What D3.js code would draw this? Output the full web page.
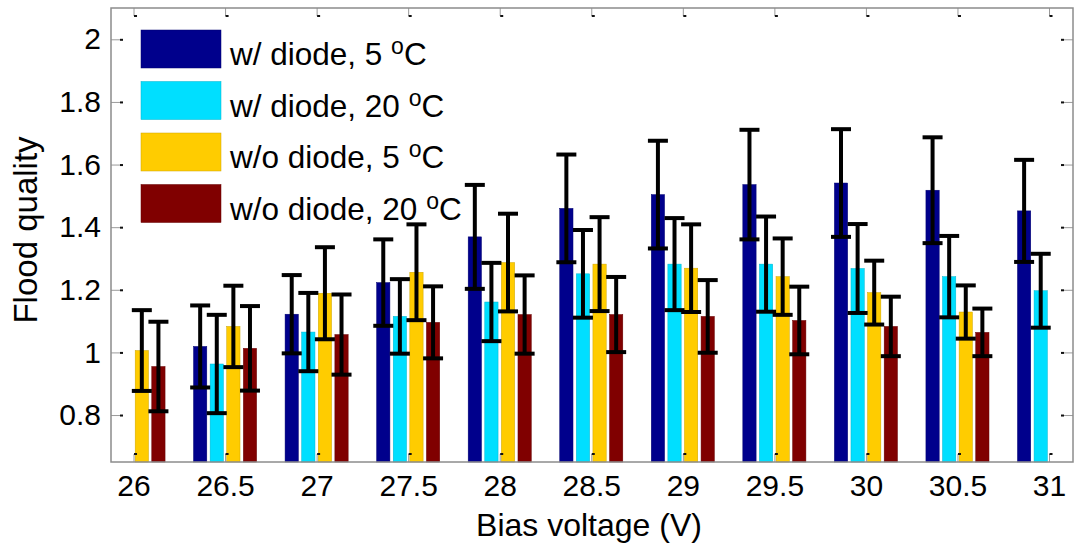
<!DOCTYPE html>
<html>
<head>
<meta charset="utf-8">
<script src="https://cdn.jsdelivr.net/npm/d3@7"></script>
<style>
  html, body { margin: 0; padding: 0; background: #fff; }
  svg { display: block; font-family: "Liberation Sans", Arial, Helvetica, sans-serif; }
</style>
</head>
<body>
<svg id="chart" width="1076" height="546"></svg>
<script>
// ---- data ----
const voltages = [26, 26.5, 27, 27.5, 28, 28.5, 29, 29.5, 30, 30.5, 31];
const tickLabels = ["26", "26.5", "27", "27.5", "28", "28.5", "29", "29.5", "30", "30.5", "31"];
const seriesNames = ["w/ diode, 5 ", "w/ diode, 20 ", "w/o diode, 5 ", "w/o diode, 20 "];
const seriesColors = ["#00008c", "#00dfff", "#ffcc00", "#800000"];

const withDiode5 =   [null, 1.019, 1.122, 1.223, 1.369, 1.460, 1.504, 1.536, 1.541, 1.518, 1.452];
const withDiode20 =  [null, 0.963, 1.065, 1.115, 1.161, 1.251, 1.282, 1.282, 1.268, 1.242, 1.197];
const withoutDiode5 =  [1.006, 1.083, 1.189, 1.256, 1.287, 1.282, 1.269, 1.242, 1.191, 1.129, null];
const withoutDiode20 = [0.955, 1.013, 1.057, 1.096, 1.121, 1.121, 1.115, 1.102, 1.083, 1.064, null];

const errDiode5 =    [null, 0.131, 0.125, 0.138, 0.166, 0.172, 0.172, 0.175, 0.172, 0.169, 0.163];
const errDiode20 =   [null, 0.157, 0.125, 0.119, 0.125, 0.140, 0.147, 0.152, 0.142, 0.130, 0.118];
const errNoDiode5 =  [0.129, 0.130, 0.147, 0.153, 0.156, 0.150, 0.140, 0.122, 0.102, 0.085, null];
const errNoDiode20 = [0.143, 0.135, 0.128, 0.115, 0.125, 0.120, 0.116, 0.108, 0.095, 0.076, null];

const yTicks = [0.8, 1, 1.2, 1.4, 1.6, 1.8, 2];
const xLimits = [25.877, 31.131];
const yLimits = [0.65, 2.1];

const seriesValues = [withDiode5, withDiode20, withoutDiode5, withoutDiode20];
const seriesErrors = [errDiode5, errDiode20, errNoDiode5, errNoDiode20];

// ---- layout ----
const svg = d3.select("#chart");
const pLeft = 111, pRight = 1073, pTop = 8, pBottom = 462;
const x = d3.scaleLinear().domain(xLimits).range([pLeft, pRight]);
const y = d3.scaleLinear().domain(yLimits).range([pBottom, pTop]);
const inner = d3.scaleBand().domain(d3.range(4)).range([-33.2, 33.2]).paddingInner(0.2).paddingOuter(0.1);

const records = [];
seriesValues.forEach((vals, s) => {
  vals.forEach((v, i) => {
    if (v != null) records.push({ s, xv: voltages[i], v, e: seriesErrors[s][i] });
  });
});

// bars
svg.append("g").selectAll("rect").data(records).join("rect")
  .attr("x", d => x(d.xv) + inner(d.s))
  .attr("width", inner.bandwidth())
  .attr("y", d => y(d.v))
  .attr("height", d => y(yLimits[0]) - y(d.v))
  .attr("fill", d => seriesColors[d.s])
  .attr("stroke", d => d3.color(seriesColors[d.s]).darker(0.6))
  .attr("stroke-width", 0.5);

// error bars
const eg = svg.append("g").attr("stroke", "#000").attr("stroke-width", 4).attr("fill", "none");
const capHalf = 10;
records.forEach(d => {
  const cx = x(d.xv) + inner(d.s) + inner.bandwidth() / 2;
  const y1 = y(d.v + d.e), y0 = y(d.v - d.e);
  eg.append("line").attr("x1", cx).attr("x2", cx).attr("y1", y1).attr("y2", y0);
  eg.append("line").attr("x1", cx - capHalf).attr("x2", cx + capHalf).attr("y1", y1).attr("y2", y1);
  eg.append("line").attr("x1", cx - capHalf).attr("x2", cx + capHalf).attr("y1", y0).attr("y2", y0);
});

// axes
const fontSize = 30;
const gx = svg.append("g").attr("transform", `translate(0,${pBottom})`)
  .call(d3.axisBottom(x).tickValues(voltages).tickFormat((d, i) => tickLabels[i]).tickSize(-8).tickPadding(13));
const gxTop = svg.append("g").attr("transform", `translate(0,${pTop})`)
  .call(d3.axisTop(x).tickValues(voltages).tickFormat("").tickSize(-8));
const gy = svg.append("g").attr("transform", `translate(${pLeft},0)`)
  .call(d3.axisLeft(y).tickValues(yTicks).tickFormat(d3.format("~g")).tickSize(-9).tickPadding(10));
const gyR = svg.append("g").attr("transform", `translate(${pRight},0)`)
  .call(d3.axisRight(y).tickValues(yTicks).tickFormat("").tickSize(-9));

[gx, gxTop, gy, gyR].forEach(g => {
  g.select(".domain").remove();
  g.selectAll(".tick line").attr("stroke", "#9a9a9a").attr("stroke-width", 1);
  g.selectAll("text").attr("font-size", fontSize).attr("fill", "#000")
    .attr("font-family", "Liberation Sans, Arial, sans-serif");
});

// small black tick tips
gx.selectAll(".tick").append("rect").attr("x", 0).attr("y", -9).attr("width", 3).attr("height", 2).attr("fill", "#111");
gxTop.selectAll(".tick").append("rect").attr("x", 0).attr("y", 7).attr("width", 3).attr("height", 2).attr("fill", "#111");
gy.selectAll(".tick").append("rect").attr("x", 9).attr("y", -1).attr("width", 3).attr("height", 2).attr("fill", "#111");
gyR.selectAll(".tick").append("rect").attr("x", -12).attr("y", -1).attr("width", 3).attr("height", 2).attr("fill", "#111");

// frame
svg.append("rect").attr("x", pLeft).attr("y", pTop).attr("width", pRight - pLeft).attr("height", pBottom - pTop)
  .attr("fill", "none").attr("stroke", "#8c8c8c").attr("stroke-width", 1.5);

// axis titles
svg.append("text").attr("x", 589).attr("y", 536).attr("text-anchor", "middle")
  .attr("font-size", 32).text("Bias voltage (V)");
svg.append("text").attr("transform", "translate(37,230) rotate(-90)").attr("text-anchor", "middle")
  .attr("font-size", 33).text("Flood quality");

// legend
const lg = svg.append("g");
seriesNames.forEach((name, i) => {
  const ry = 30 + i * 51.5;
  lg.append("rect").attr("x", 141).attr("y", ry).attr("width", 80).attr("height", 38)
    .attr("fill", seriesColors[i]).attr("stroke", d3.color(seriesColors[i]).darker(0.6)).attr("stroke-width", 0.5);
  const t = lg.append("text").attr("x", 230).attr("y", ry + 35).attr("font-size", 31.5);
  t.append("tspan").text(name);
  t.append("tspan").attr("dy", -11).attr("font-size", 23).text("o");
  t.append("tspan").attr("dy", 11).text("C");
});
</script>
</body>
</html>
